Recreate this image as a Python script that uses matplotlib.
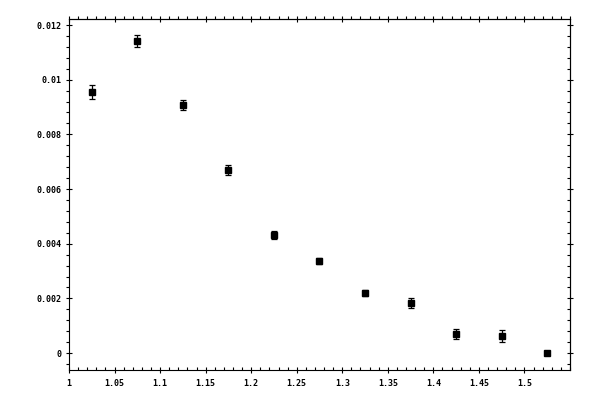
import numpy as np
import matplotlib
matplotlib.use('Agg')
import matplotlib.pyplot as plt
from matplotlib.ticker import MultipleLocator, FixedLocator, FormatStrFormatter

# data
x = [1.025, 1.075, 1.125, 1.175, 1.225, 1.275, 1.325, 1.375, 1.425, 1.475, 1.525]
y = [0.00955, 0.01143, 0.00908, 0.0067, 0.00432, 0.00337, 0.0022, 0.00183, 0.0007, 0.00062, 0.0]
yerr = [0.00027, 0.00022, 0.00018, 0.00018, 0.00016, 0.0001, 0.0001, 0.00019, 0.00017, 0.00022, 0.0]

xticks = [1.0, 1.05, 1.1, 1.15, 1.2, 1.25, 1.3, 1.35, 1.4, 1.45, 1.5]
yticks = [0, 0.002, 0.004, 0.006, 0.008, 0.01, 0.012]

plt.rcParams['font.family'] = ['DejaVu Sans Mono']
plt.rcParams['font.size'] = 6
plt.rcParams['font.weight'] = 'bold'

fig = plt.figure(figsize=(6, 4), dpi=100)
ax = fig.add_axes([69 / 600, 1 - 370 / 400, (570 - 69) / 600, (370 - 19) / 400])

ax.errorbar(x, y, yerr=yerr, fmt='s', color='black', markersize=5,
            elinewidth=0.9, capsize=2, capthick=0.9)

ax.set_xlim(1.0, 1.55)
ax.set_ylim(-0.00062, 0.01222)

ax.xaxis.set_major_locator(FixedLocator(xticks))
ax.xaxis.set_minor_locator(MultipleLocator(0.01))
ax.yaxis.set_major_locator(FixedLocator(yticks))
ax.yaxis.set_minor_locator(MultipleLocator(0.0004))
ax.xaxis.set_major_formatter(FormatStrFormatter('%g'))
ax.yaxis.set_major_formatter(FormatStrFormatter('%g'))

for s in ax.spines.values():
    s.set_linewidth(0.8)

ax.tick_params(axis='x', which='major', direction='inout', length=5, width=0.8, pad=4)
ax.tick_params(axis='x', which='minor', direction='in', length=2.5, width=0.8)
ax.tick_params(axis='y', which='major', direction='inout', length=5, width=0.8, pad=3)
ax.tick_params(axis='y', which='minor', direction='out', length=2.5, width=0.8)

top = ax.secondary_xaxis('top')
top.xaxis.set_major_locator(FixedLocator(xticks))
top.xaxis.set_minor_locator(MultipleLocator(0.01))
top.tick_params(which='major', direction='inout', length=5, width=0.8, labeltop=False)
top.tick_params(which='minor', direction='out', length=2.5, width=0.8)

right = ax.secondary_yaxis('right')
right.yaxis.set_major_locator(FixedLocator(yticks))
right.yaxis.set_minor_locator(MultipleLocator(0.0004))
right.tick_params(which='major', direction='inout', length=5, width=0.8, labelright=False)
right.tick_params(which='minor', direction='in', length=2.5, width=0.8)

fig.savefig('out.png', dpi=100)
